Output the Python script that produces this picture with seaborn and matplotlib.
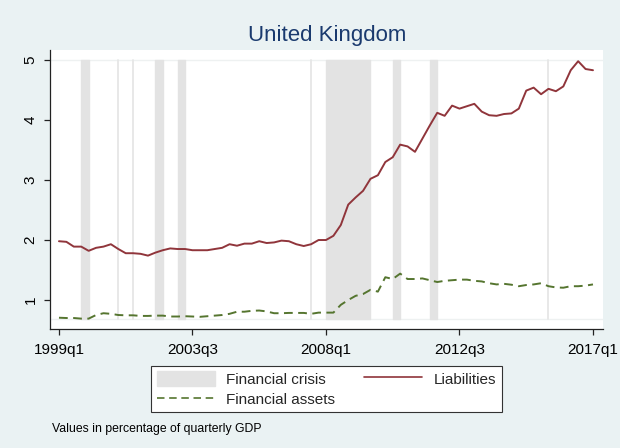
import numpy as np
import pandas as pd
import matplotlib
matplotlib.use("Agg")
import matplotlib.pyplot as plt
import seaborn as sns
from matplotlib.patches import Patch
from matplotlib.lines import Line2D

# quarters 1999q1 .. 2017q1
quarters = [f"{1999 + i // 4}q{i % 4 + 1}" for i in range(73)]

liabilities = [1.98, 1.97, 1.89, 1.89, 1.82, 1.87, 1.89, 1.93, 1.85, 1.78,
               1.78, 1.77, 1.74, 1.79, 1.83, 1.86, 1.85, 1.85, 1.83, 1.83,
               1.83, 1.85, 1.87, 1.93, 1.905, 1.94, 1.94, 1.98, 1.95, 1.96,
               1.99, 1.98, 1.93, 1.90, 1.93, 2.00, 2.00, 2.07, 2.25, 2.59,
               2.71, 2.82, 3.02, 3.08, 3.30, 3.38, 3.59, 3.56, 3.47, 3.69,
               3.91, 4.12, 4.07, 4.24, 4.19, 4.23, 4.27, 4.14, 4.08, 4.07,
               4.10, 4.11, 4.19, 4.49, 4.54, 4.43, 4.52, 4.48, 4.56, 4.83,
               4.98, 4.85, 4.83]

assets = [0.705, 0.70, 0.70, 0.69, 0.69, 0.75, 0.78, 0.77, 0.75, 0.745,
          0.745, 0.735, 0.735, 0.74, 0.74, 0.725, 0.725, 0.73, 0.725, 0.72,
          0.73, 0.74, 0.75, 0.77, 0.805, 0.805, 0.82, 0.825, 0.81, 0.78,
          0.78, 0.785, 0.785, 0.785, 0.77, 0.79, 0.79, 0.79, 0.92, 1.00,
          1.07, 1.10, 1.17, 1.14, 1.38, 1.35, 1.44, 1.35, 1.35, 1.36,
          1.33, 1.30, 1.32, 1.33, 1.34, 1.34, 1.32, 1.31, 1.28, 1.26,
          1.27, 1.255, 1.23, 1.25, 1.26, 1.28, 1.23, 1.21, 1.205, 1.23,
          1.23, 1.24, 1.26]

# crisis periods (start / end quarter); single-quarter episodes have start == end
crisis_start = ["1999q4", "2001q1", "2001q3", "2002q2", "2003q1", "2007q3", "2008q1", "2010q2", "2011q3", "2015q3"]
crisis_end = ["2000q1", "2001q1", "2001q3", "2002q3", "2003q2", "2007q3", "2009q3", "2010q3", "2011q4", "2015q3"]

tick_labels = ["1999q1", "2003q3", "2008q1", "2012q3", "2017q1"]
y_ticks = [1, 2, 3, 4, 5]

bg = "#eaf2f3"
shade = "#e3e3e3"
red = "#90353b"
green = "#55752f"
title_col = "#1a3a6e"

df = pd.DataFrame({"t": np.arange(len(quarters)), "quarter": quarters,
                   "Liabilities": liabilities, "Financial assets": assets})

sns.set_theme(style="white")
plt.rcParams["font.family"] = ["Liberation Sans", "DejaVu Sans"]

fig = plt.figure(figsize=(6.2, 4.48), dpi=100, facecolor=bg)
ax = fig.add_axes([50 / 620, 1 - 329 / 448, 553 / 620, 279 / 448])
ax.set_facecolor("white")

pos = {q: i for i, q in enumerate(quarters)}
lo, hi = min(assets) - 0.01, 5.0
for s, e in zip(crisis_start, crisis_end):
    a, b = pos[s], pos[e]
    if a == b:
        ax.plot([a, a], [lo, hi], color="#e6e6e6", lw=1.3, zorder=1)
    else:
        ax.fill_between([a, b], lo, hi, color=shade, lw=1.0, edgecolor=shade, zorder=1)
ax.axhline(hi, color="#eef1f1", lw=1.0, zorder=0.5)
ax.axhline(lo, color="#eef1f1", lw=1.0, zorder=0.5)

sns.lineplot(data=df, x="t", y="Liabilities", ax=ax, color=red, lw=1.4, zorder=3)
sns.lineplot(data=df, x="t", y="Financial assets", ax=ax, color=green, lw=1.4,
             linestyle=(0, (4.5, 2.8)), zorder=3)

ax.set_xlim(-1.21, 73.35)
ax.set_ylim(0.517, 5.167)
ax.set_xticks([pos[q] for q in tick_labels])
ax.set_xticklabels(tick_labels)
ax.set_yticks(y_ticks)
ax.set_yticklabels([str(v) for v in y_ticks], rotation=90, va="center")
ax.set_xlabel("")
ax.set_ylabel("")
ax.tick_params(axis="both", which="major", direction="out", length=4, width=0.9,
               colors="#222222", labelsize=11, labelcolor="black")
ax.tick_params(axis="x", pad=6)
ax.tick_params(axis="y", pad=5, left=True)
ax.tick_params(axis="x", bottom=True)
for side in ["top", "right"]:
    ax.spines[side].set_visible(False)
for side in ["left", "bottom"]:
    ax.spines[side].set_color("#222222")
    ax.spines[side].set_linewidth(0.9)

fig.text(0.527, 1 - 36 / 448, "United Kingdom", ha="center", va="center",
         fontsize=16, color=title_col)

handles = [Patch(facecolor=shade, edgecolor=shade),
           Line2D([], [], color=green, lw=1.2, linestyle=(0, (4.5, 2.8))),
           Line2D([], [], color=red, lw=1.2)]
labels = ["Financial crisis", "Financial assets", "Liabilities"]
leg = fig.legend(handles, labels, ncol=2, loc="center",
                 bbox_to_anchor=(326.5 / 620, 1 - 389 / 448), fontsize=11,
                 frameon=True, fancybox=False, framealpha=1, edgecolor="#333333",
                 handlelength=3.8, handleheight=1.15, labelspacing=0.28,
                 columnspacing=1.9, borderpad=0.35, handletextpad=0.75)
leg.get_frame().set_linewidth(0.8)

fig.text(52 / 620, 1 - 429 / 448, "Values in percentage of quarterly GDP",
         ha="left", va="center", fontsize=8.8, color="black")

fig.savefig("out.png", dpi=100, facecolor=bg)
